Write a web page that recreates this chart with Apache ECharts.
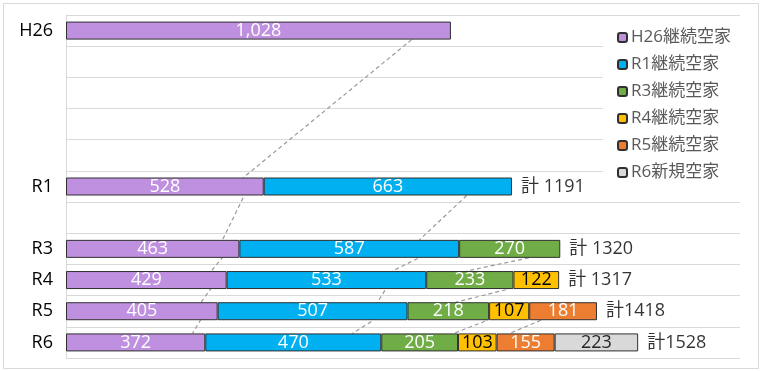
<!DOCTYPE html>
<html>
<head>
<meta charset="utf-8">
<script src="https://cdn.jsdelivr.net/npm/echarts@6/dist/echarts.min.js"></script>
<style>
html,body{margin:0;padding:0;background:#fff;}
#chart{width:763px;height:371px;}
</style>
</head>
<body>
<div id="chart"></div>
<script>
// ---- data ----
const categories = ['H26','H27','H28','H29','H30','R1','R2','R3','R4','R5','R6'];
const tickLabels = ['H26','','','','','R1','','R3','R4','R5','R6'];
const seriesNames = ['H26継続空家','R1継続空家','R3継続空家','R4継続空家','R5継続空家','R6新規空家'];
const h26Cont = [1028, null, null, null, null, 528, null, 463, 429, 405, 372];
const r1Cont  = [null, null, null, null, null, 663, null, 587, 533, 507, 470];
const r3Cont  = [null, null, null, null, null, null, null, 270, 233, 218, 205];
const r4Cont  = [null, null, null, null, null, null, null, null, 122, 107, 103];
const r5Cont  = [null, null, null, null, null, null, null, null, null, 181, 155];
const r6New   = [null, null, null, null, null, null, null, null, null, null, 223];
const totals  = [null, null, null, null, null, 1191, null, 1320, 1317, 1418, 1528];
const totalLabels = ['', '', '', '', '', '計 1191', '', '計 1320', '計 1317', '計1418', '計1528'];
// dashed connector lines: [value, category position (index units)]
const connA = [[923,0.79],[474,5.21],[476,5.79],[418,7.21],[417,7.79],[388,8.21],[386,8.79],[361,9.21],[359,9.79],[338,10.21]];
const connB = [[1070,5.79],[944,7.21],[942,7.79],[872,8.21],[854,8.79],[832,9.21],[821,9.79],[765,10.21]];
const connC = [[1236,7.79],[1070,8.21],[1182,8.79],[1041,9.21],[1126,9.79],[1035,10.21]];
const connD = [[1268,9.79],[1185,10.21]];

// ---- styles ----
const colors = ['#BF8FE0','#00B0F0','#70AD47','#FFC000','#ED7D31','#D9D9D9'];
const labelColors = ['#fff','#fff','#fff','#000','#fff','#262626'];
const FONT = "'Open Sans','Noto Sans CJK JP',sans-serif";
const seriesData = [h26Cont, r1Cont, r3Cont, r4Cont, r5Cont, r6New];

const chart = echarts.init(document.getElementById('chart'), null, {renderer:'canvas'});

const barSeries = seriesNames.map((name, k) => ({
  name: name,
  type: 'bar',
  stack: 'total',
  barWidth: 18,
  z: 3,
  data: seriesData[k].map(v => v == null ? '-' : v),
  itemStyle: { color: colors[k], borderColor: '#303030', borderWidth: 1 },
  label: {
    show: true,
    position: 'inside',
    color: labelColors[k],
    fontFamily: FONT,
    fontSize: 18,
    formatter: p => (p.value >= 1000 ? p.value.toLocaleString('en-US') : String(p.value))
  },
  emphasis: { disabled: true }
}));

const connSeries = [connA, connB, connC, connD].map(d => ({
  type: 'line',
  xAxisIndex: 0,
  yAxisIndex: 1,
  data: d,
  showSymbol: false,
  symbol: 'none',
  silent: true,
  z: 1,
  lineStyle: { color: '#9a9a9a', width: 1.2, type: [4, 3] }
}));

const totalSeries = {
  type: 'scatter',
  xAxisIndex: 0,
  yAxisIndex: 0,
  symbolSize: 0,
  silent: true,
  z: 4,
  data: totals.map((t, i) => t == null ? null : { value: [t, i], name: totalLabels[i] }).filter(x => x),
  label: {
    show: true,
    position: 'right',
    distance: 9,
    formatter: '{b}',
    color: '#000',
    fontFamily: FONT,
    fontSize: 18
  }
};

chart.setOption({
  animation: false,
  backgroundColor: '#fff',
  graphic: [{
    type: 'rect',
    shape: { x: 3.5, y: 3.5, width: 755, height: 365 },
    style: { fill: 'none', stroke: '#d9d9d9', lineWidth: 1 },
    z: -10
  }],
  grid: { left: 66, top: 15, right: 23, bottom: 13, containLabel: false },
  legend: {
    data: seriesNames,
    orient: 'vertical',
    left: 603,
    top: 21,
    backgroundColor: '#fff',
    padding: [8, 12, 8, 14],
    itemWidth: 9,
    itemHeight: 9,
    itemGap: 10,
    textStyle: { color: '#595959', fontSize: 17, fontFamily: FONT, padding: [0, 0, 0, -1] },
    selectedMode: false,
    z: 10
  },
  xAxis: [{
    type: 'value',
    min: 0,
    max: 1800,
    show: false,
    splitLine: { show: false }
  }],
  yAxis: [{
    type: 'category',
    data: categories,
    inverse: true,
    axisLine: { show: true, lineStyle: { color: '#d9d9d9' } },
    axisTick: { show: false },
    axisLabel: {
      interval: 0,
      margin: 13,
      color: '#000',
      fontSize: 18,
      fontFamily: FONT,
      formatter: (v, i) => tickLabels[i]
    },
    splitLine: { show: true, interval: 0, lineStyle: { color: '#d9d9d9', width: 1 } }
  }, {
    type: 'value',
    min: 0,
    max: 11,
    inverse: true,
    show: false
  }],
  series: [...connSeries, ...barSeries, totalSeries]
});
</script>
</body>
</html>
